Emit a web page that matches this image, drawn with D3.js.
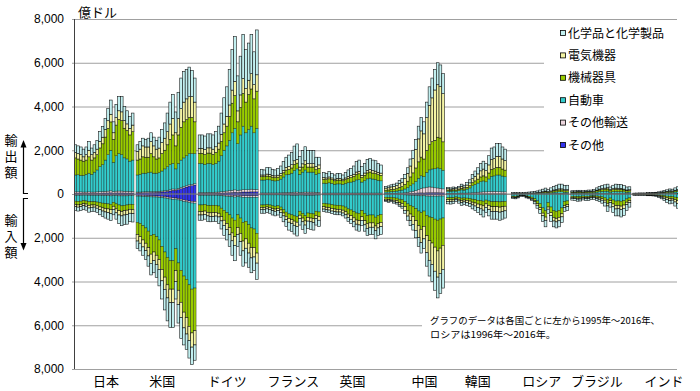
<!DOCTYPE html>
<html><head><meta charset="utf-8">
<script src="https://cdn.jsdelivr.net/npm/d3@7/dist/d3.min.js"></script>
<style>
body{margin:0;background:#fff}
svg{display:block}
text{font-family:"Noto Sans CJK JP","Noto Sans",sans-serif;fill:#000}
.num{font-family:"Liberation Sans",Arial,sans-serif}
</style>
</head><body>
<svg id="c" width="700" height="391"></svg>
<script>
// ---------------- categories / labels ----------------
const countries = ["日本","米国","ドイツ","フランス","英国","中国","韓国","ロシア","ブラジル","インド"];
const years = [1995,1996,1997,1998,1999,2000,2001,2002,2003,2004,2005,2006,2007,2008,2009,2010,2011,2012,2013,2014,2015,2016];
const legendLabels = ["化学品と化学製品","電気機器","機械器具","自動車","その他輸送","その他"];
const tickValues = [-8000,-6000,-4000,-2000,0,2000,4000,6000,8000];

// ---------------- data (億ドル), 1995-2016; Russia 1996-2016 ----------------
// order of each group: その他, その他輸送, 自動車, 機械器具, 電気機器, 化学品と化学製品
const jpExOther=[40,40,40,35,35,40,35,35,40,40,45,45,50,55,40,50,50,50,45,45,45,45];
const jpExTrans=[60,60,60,55,55,60,55,55,60,65,70,75,80,90,70,80,85,85,80,80,75,75];
const jpExAuto=[770,780,750,760,810,850,810,910,1000,1150,1230,1430,1670,1850,1340,1620,1720,1670,1530,1480,1380,1430];
const jpExMach=[780,720,700,650,650,750,650,650,700,850,950,1050,1200,1300,1050,1400,1550,1550,1350,1300,1200,1300];
const jpExElec=[250,250,250,200,250,300,250,250,250,300,300,350,350,350,300,350,400,400,350,300,300,300];
const jpExChem=[350,350,350,350,350,400,300,350,400,450,500,500,550,650,500,600,650,700,650,600,550,550];
const jpImOther=[30,30,30,25,25,30,30,30,30,30,35,35,35,40,30,35,40,40,40,40,35,35];
const jpImTrans=[30,30,30,30,30,30,30,30,30,35,35,40,40,45,35,40,45,45,45,45,40,40];
const jpImAuto=[270,280,270,245,265,290,290,290,310,335,350,365,375,385,315,375,415,455,435,415,395,405];
const jpImMach=[150,160,150,140,140,170,150,150,170,190,210,220,230,240,180,230,260,260,240,240,230,240];
const jpImElec=[100,100,100,90,100,120,110,100,110,130,150,160,170,180,140,180,200,200,200,200,180,180];
const jpImChem=[170,180,180,170,180,190,190,190,200,230,250,280,300,330,250,290,390,450,440,440,370,380];

const usExOther=[50,50,55,60,60,70,70,75,80,90,100,120,140,170,170,200,240,280,320,360,380,410];
const usExTrans=[40,40,45,45,45,45,45,45,45,45,50,50,55,60,55,55,60,60,60,60,60,60];
const usExAuto=[780,810,850,845,875,885,835,830,855,915,1000,1080,1155,1170,925,1145,1250,1310,1370,1430,1410,1380];
const usExMach=[680,700,750,730,700,850,750,650,670,800,850,1000,1150,1300,1050,1300,1500,1650,1650,1650,1650,1450];
const usExElec=[400,450,500,470,470,550,500,450,450,500,550,600,700,750,600,750,850,900,950,950,950,900];
const usExChem=[300,350,350,350,400,400,400,400,500,600,700,850,1000,1100,950,1200,1400,1400,1350,1350,1200,1100];
const usImOther=[60,60,65,70,75,80,85,90,100,110,120,140,160,180,180,210,240,270,290,320,340,350];
const usImTrans=[40,40,45,45,50,50,50,50,55,55,60,60,65,65,55,60,65,65,70,70,70,70];
const usImAuto=[1200,1250,1340,1435,1575,1770,1715,1810,1945,2235,2470,2700,2825,2805,2265,2880,3195,3415,3540,3760,3940,3880];
const usImMach=[550,600,650,700,750,850,800,850,900,1050,1150,1250,1300,1300,1000,1250,1450,1650,1750,1900,2000,1950];
const usImElec=[300,300,320,340,380,420,400,420,450,520,560,600,620,620,500,650,700,720,750,650,650,650];
const usImChem=[350,350,380,410,470,530,550,600,750,830,940,1050,1130,1130,800,850,950,780,700,800,800,700];

const deExOther=[30,30,30,30,30,30,35,40,45,50,55,60,70,80,70,80,90,90,90,100,100,100];
const deExTrans=[40,40,40,45,45,45,50,50,60,70,80,90,100,110,90,100,110,110,110,120,110,110];
const deExAuto=[1330,1330,1280,1325,1325,1275,1315,1410,1645,1880,2065,2300,2630,2810,2140,2520,2900,2600,2750,2880,2590,2790];
const deExMach=[460,460,450,470,470,460,500,550,650,800,900,1100,1350,1500,1000,1250,1500,1400,1600,1700,1550,1700];
const deExElec=[230,230,230,240,240,240,260,280,330,400,450,520,600,650,500,580,680,620,650,700,650,750];
const deExChem=[610,610,620,640,640,650,690,770,970,1200,1350,1630,1850,2050,1600,1770,2020,1780,1700,1800,1500,2050];
const deImOther=[30,30,30,30,30,30,30,35,40,45,50,55,60,70,60,70,80,80,80,80,80,80];
const deImTrans=[30,30,30,30,30,30,30,35,40,45,50,55,60,70,60,65,70,70,70,70,70,70];
const deImAuto=[440,440,420,460,470,460,460,480,570,660,750,840,980,1060,830,965,1150,1100,1250,1400,1450,1650];
const deImMach=[310,310,300,320,330,330,320,330,380,450,500,580,680,750,580,700,850,800,850,900,850,900];
const deImElec=[150,150,150,160,170,180,170,170,200,240,270,320,360,400,320,380,450,430,450,470,430,460];
const deImChem=[240,240,220,250,240,220,240,300,370,460,480,550,660,700,550,620,700,670,650,680,620,740];

const frExOther=[20,20,20,20,20,20,20,20,25,25,25,25,30,30,25,25,30,30,30,30,25,25];
const frExTrans=[30,30,30,30,30,30,30,35,40,45,45,50,55,60,50,55,60,55,55,55,50,50];
const frExAuto=[590,590,610,600,570,550,570,625,715,810,830,875,995,1060,825,920,1010,915,915,915,825,875];
const frExMach=[150,150,160,160,150,150,150,160,190,210,220,240,270,260,200,230,250,230,230,230,210,220];
const frExElec=[80,80,90,90,80,80,90,100,110,130,140,150,170,170,130,150,170,160,160,160,150,160];
const frExChem=[260,230,310,300,280,270,310,340,400,460,520,550,670,710,480,600,640,590,590,590,420,350];
const frImOther=[20,20,20,20,20,20,20,20,25,25,25,30,30,30,25,25,30,30,30,30,25,25];
const frImTrans=[20,20,20,20,20,20,20,20,25,25,25,30,30,30,25,25,30,30,30,30,25,25];
const frImAuto=[460,460,450,460,500,520,500,560,660,780,860,890,940,980,740,840,930,810,830,850,740,770];
const frImMach=[110,110,100,110,120,130,120,130,160,190,210,220,240,250,180,210,240,200,210,220,190,220];
const frImElec=[90,90,90,90,100,100,100,110,130,150,170,180,190,200,150,170,190,170,170,170,150,160];
const frImChem=[180,180,170,180,200,210,200,230,270,320,360,370,400,430,300,350,380,330,350,350,290,290];

const gbExOther=[20,20,20,20,20,20,20,20,20,20,20,20,20,20,20,20,20,20,20,20,20,20];
const gbExTrans=[25,25,25,25,25,25,25,25,25,25,25,25,25,25,25,25,25,25,25,25,25,25];
const gbExAuto=[450,440,470,440,400,420,420,400,440,480,500,540,600,620,500,570,650,680,640,620,580,560];
const gbExMach=[180,170,180,170,160,170,170,160,170,190,200,220,250,260,210,240,270,280,270,270,260,250];
const gbExElec=[80,80,85,80,75,80,80,75,80,90,95,100,110,115,95,105,115,115,110,110,105,100];
const gbExChem=[220,210,240,210,190,230,230,190,240,295,330,375,475,510,400,440,505,510,485,475,410,370];
const gbImOther=[20,20,20,20,20,20,20,20,20,20,20,20,20,20,20,20,20,20,20,20,20,20];
const gbImTrans=[20,20,20,20,20,20,20,20,20,20,20,20,20,20,20,20,20,20,20,20,20,20];
const gbImAuto=[390,410,420,450,470,480,480,510,560,640,690,760,830,850,720,850,950,920,920,1020,940,900];
const gbImMach=[150,155,160,170,175,180,180,190,210,240,260,290,320,330,280,330,370,360,360,400,370,360];
const gbImElec=[110,115,115,120,125,125,125,130,140,155,165,180,190,195,170,190,210,200,200,220,200,190];
const gbImChem=[110,110,115,120,120,125,125,130,150,175,195,230,270,285,240,290,330,330,330,370,350,360];

const cnExOther=[10,10,10,10,10,15,15,20,25,30,35,40,50,55,50,60,65,65,65,65,60,55];
const cnExTrans=[15,15,20,20,25,30,30,40,50,70,90,110,150,200,230,250,260,250,220,210,200,180];
const cnExAuto=[70,75,85,90,100,120,135,170,220,280,340,420,520,580,520,680,780,830,870,920,900,850];
const cnExMach=[80,85,95,100,110,140,160,210,290,400,500,620,750,850,800,1000,1150,1250,1300,1400,1400,1300];
const cnExElec=[95,100,115,125,140,175,200,260,360,500,650,850,1050,1200,1150,1500,1800,2000,2300,2400,2350,2200];
const cnExChem=[80,85,95,105,115,140,160,200,255,320,385,460,580,615,550,710,845,905,945,1005,990,915];
const cnImOther=[10,10,10,10,10,15,15,20,25,25,30,30,35,35,35,40,40,40,40,40,40,40];
const cnImTrans=[10,10,10,10,10,15,15,20,25,30,35,40,45,50,45,55,60,60,60,60,55,55];
const cnImAuto=[130,140,130,155,170,210,235,310,400,470,520,600,700,770,700,880,950,980,1050,1100,1050,1000];
const cnImMach=[90,100,90,110,120,150,170,230,320,390,450,550,670,760,700,930,1080,1160,1280,1400,1330,1250];
const cnImElec=[60,65,60,75,85,110,125,170,240,300,350,440,540,610,570,780,900,980,1100,1200,1150,1100];
const cnImChem=[50,55,50,60,65,80,90,130,190,235,265,340,410,475,450,615,720,780,870,950,925,855];

const krExOther=[10,10,10,10,10,10,10,10,10,10,10,10,10,10,10,10,10,10,10,10,10,10];
const krExTrans=[20,20,20,20,25,30,30,35,40,50,60,70,80,90,90,100,110,110,100,100,90,90];
const krExAuto=[100,95,110,100,120,150,135,180,230,320,370,420,480,500,460,580,690,710,760,760,720,690];
const krExMach=[50,45,50,50,55,70,60,80,100,140,160,180,210,230,220,270,320,330,350,350,320,300];
const krExElec=[60,55,65,60,70,95,80,105,130,180,210,240,280,310,290,370,450,460,500,500,460,440];
const krExChem=[60,55,65,60,70,95,85,110,140,200,240,280,340,360,330,420,520,530,580,580,550,520];
const krImOther=[10,10,10,10,10,10,10,10,10,10,10,10,10,10,10,10,10,10,10,10,10,10];
const krImTrans=[10,10,10,10,10,10,10,10,10,10,10,10,10,10,10,10,10,10,10,10,10,10];
const krImAuto=[150,150,145,115,140,170,160,170,190,220,240,270,290,310,260,300,330,330,330,340,330,320];
const krImMach=[90,95,90,70,85,105,95,105,115,135,150,170,190,210,170,200,230,230,230,240,230,220];
const krImElec=[80,80,75,60,75,95,85,95,105,125,140,160,180,200,160,190,220,220,220,230,220,210];
const krImChem=[110,115,110,85,100,130,120,130,150,180,200,230,270,310,240,290,350,350,350,370,350,330];

const ruExOther=[5,5,5,5,5,5,5,5,5,5,5,5,5,5,5,5,5,5,5,5,5];
const ruExTrans=[5,5,5,5,5,5,5,5,10,10,10,10,15,15,15,20,20,20,20,20,20];
const ruExAuto=[5,5,5,5,5,5,10,10,10,15,25,30,40,30,40,60,70,80,80,60,60];
const ruExMach=[10,10,10,10,10,10,10,15,15,20,25,35,45,35,50,60,70,80,80,70,70];
const ruExElec=[5,5,5,5,5,10,10,10,10,15,20,25,30,25,30,40,45,50,50,40,45];
const ruExChem=[40,40,30,30,40,45,50,55,70,75,95,115,135,90,140,155,190,215,215,185,200];
const ruImOther=[5,5,5,5,5,5,5,5,5,5,5,5,5,5,5,5,5,5,5,5,5];
const ruImTrans=[10,10,10,10,10,10,10,10,10,10,10,10,10,10,10,10,10,10,10,10,10];
const ruImAuto=[80,90,70,35,40,70,90,130,200,300,430,620,750,380,580,750,780,740,620,330,300];
const ruImMach=[40,45,35,20,22,35,45,60,90,130,180,240,290,200,260,310,320,310,270,180,170];
const ruImElec=[25,25,20,12,13,20,25,35,50,70,90,120,150,100,130,160,160,160,140,90,90];
const ruImChem=[40,45,40,30,30,40,45,60,95,135,185,255,295,205,265,265,275,275,255,185,175];

const brExOther=[5,5,5,5,5,5,5,5,5,5,5,5,5,5,5,5,5,5,5,5,5,5];
const brExTrans=[15,15,15,15,15,15,15,15,15,15,15,15,15,15,15,15,15,15,15,15,15,15];
const brExAuto=[30,30,35,35,30,35,40,40,50,70,90,100,110,110,70,90,100,90,100,80,60,70];
const brExMach=[35,35,40,40,35,40,40,40,45,60,75,80,90,100,70,90,100,95,95,85,70,70];
const brExElec=[15,15,20,20,15,20,20,20,25,30,40,45,50,55,40,45,50,45,45,40,35,35];
const brExChem=[50,50,55,55,50,55,60,60,70,100,125,135,150,165,120,155,180,180,170,155,135,135];
const brImOther=[5,5,5,5,5,5,5,5,5,5,5,5,5,5,5,5,5,5,5,5,5,5];
const brImTrans=[10,10,10,10,10,10,10,10,10,10,10,10,10,10,10,10,10,10,10,10,10,10];
const brImAuto=[90,95,105,100,80,90,90,70,65,80,95,115,160,240,170,260,310,300,320,290,210,160];
const brImMach=[60,65,70,70,55,60,60,50,45,60,70,85,110,170,120,180,210,210,220,200,150,120];
const brImElec=[40,40,45,45,40,45,45,40,40,50,60,70,90,120,90,130,150,150,160,150,110,90];
const brImChem=[75,85,95,90,80,90,90,75,75,95,110,135,175,255,205,265,315,325,335,325,265,215];

const inExOther=[3,3,3,3,3,3,3,3,3,3,3,3,3,3,3,3,3,3,3,3,3,3];
const inExTrans=[2,2,2,2,2,3,3,4,5,6,8,10,12,15,15,18,20,22,22,22,20,22];
const inExAuto=[10,11,12,12,12,14,14,16,20,25,32,40,48,58,55,70,85,90,95,100,95,100];
const inExMach=[6,7,8,8,8,10,10,12,14,18,24,30,36,44,42,54,62,65,70,70,65,70];
const inExElec=[4,5,5,5,5,6,6,7,8,10,13,16,20,25,24,30,35,38,40,40,38,40];
const inExChem=[15,17,20,20,20,24,24,28,30,38,50,61,71,85,81,105,125,132,140,145,139,145];
const inImOther=[3,3,3,3,3,3,3,3,3,3,3,3,3,3,3,3,3,3,3,3,3,3];
const inImTrans=[3,3,3,3,3,3,3,3,3,3,3,3,3,3,3,3,3,3,3,3,3,3];
const inImAuto=[15,16,16,17,17,20,20,22,30,40,55,75,95,110,105,140,160,160,150,155,160,170];
const inImMach=[12,13,13,14,14,16,16,18,24,32,45,60,75,90,85,110,130,130,120,125,130,135];
const inImElec=[10,11,11,12,12,14,14,16,22,30,42,58,75,90,85,110,130,130,120,125,130,140];
const inImChem=[17,19,19,21,21,24,24,28,38,52,72,101,129,154,139,184,224,224,204,209,224,229];

// ---------------- assemble ----------------
const keys = ["other","trans","auto","mach","elec","chem"]; // stacked outward from 0
const colors = {chem:"#c2f0f0", elec:"#f4f4a4", mach:"#99cc00", auto:"#33cccc", trans:"#ecd6de", other:"#3333ee"};
const legendKeys = ["chem","elec","mach","auto","trans","other"];
// layout: horizontal nudge of each country label (px)
const labelNudge = [1,-5,-2,2,-1,9,0,2,-5,0];

const groups = [
  ["日本",1995,[jpExOther,jpExTrans,jpExAuto,jpExMach,jpExElec,jpExChem],[jpImOther,jpImTrans,jpImAuto,jpImMach,jpImElec,jpImChem]],
  ["米国",1995,[usExOther,usExTrans,usExAuto,usExMach,usExElec,usExChem],[usImOther,usImTrans,usImAuto,usImMach,usImElec,usImChem]],
  ["ドイツ",1995,[deExOther,deExTrans,deExAuto,deExMach,deExElec,deExChem],[deImOther,deImTrans,deImAuto,deImMach,deImElec,deImChem]],
  ["フランス",1995,[frExOther,frExTrans,frExAuto,frExMach,frExElec,frExChem],[frImOther,frImTrans,frImAuto,frImMach,frImElec,frImChem]],
  ["英国",1995,[gbExOther,gbExTrans,gbExAuto,gbExMach,gbExElec,gbExChem],[gbImOther,gbImTrans,gbImAuto,gbImMach,gbImElec,gbImChem]],
  ["中国",1995,[cnExOther,cnExTrans,cnExAuto,cnExMach,cnExElec,cnExChem],[cnImOther,cnImTrans,cnImAuto,cnImMach,cnImElec,cnImChem]],
  ["韓国",1995,[krExOther,krExTrans,krExAuto,krExMach,krExElec,krExChem],[krImOther,krImTrans,krImAuto,krImMach,krImElec,krImChem]],
  ["ロシア",1996,[ruExOther,ruExTrans,ruExAuto,ruExMach,ruExElec,ruExChem],[ruImOther,ruImTrans,ruImAuto,ruImMach,ruImElec,ruImChem]],
  ["ブラジル",1995,[brExOther,brExTrans,brExAuto,brExMach,brExElec,brExChem],[brImOther,brImTrans,brImAuto,brImMach,brImElec,brImChem]],
  ["インド",1995,[inExOther,inExTrans,inExAuto,inExMach,inExElec,inExChem],[inImOther,inImTrans,inImAuto,inImMach,inImElec,inImChem]]
];

function rowsOf(start, arrs){
  return arrs[0].map((_,i)=>{
    const r={year:start+i};
    keys.forEach((k,j)=>r[k]=arrs[j][i]);
    return r;
  });
}

// ---------------- scales ----------------
const svg = d3.select("#c");
const L=74, R=677, T=19, B=369;
const y = d3.scaleLinear().domain([-8000,8000]).range([B,T]);
const xC = d3.scaleBand().domain(countries).range([L, L+62.1*10]).paddingInner(0);
const xY = d3.scaleBand().domain(years).range([0,60]).padding(0);

// grid + axis
const gAxis = svg.append("g").attr("transform",`translate(${L},0)`)
  .call(d3.axisLeft(y).tickValues(tickValues).tickSize(-(R-L)).tickSizeOuter(0)
    .tickFormat(d=>d3.format(",")(Math.abs(d))).tickPadding(10));
gAxis.select(".domain").remove();
gAxis.selectAll(".tick line").attr("stroke","#a0a0a0").attr("x1",-2).attr("stroke-width",1);
gAxis.selectAll(".tick text").attr("class","num").attr("font-size",12).attr("x",-10).attr("fill","#000");

// bars
svg.append("clipPath").attr("id","plotclip").append("rect").attr("x",L).attr("y",0).attr("width",R-L+1).attr("height",391);
const gBars = svg.append("g").attr("clip-path","url(#plotclip)");
const stack = d3.stack().keys(keys);
groups.forEach(([name,start,ex,im])=>{
  const x0 = xC(name);
  [["ex",ex,1],["im",im,-1]].forEach(([dir,arrs,sgn])=>{
    const series = stack(rowsOf(start,arrs));
    series.forEach(s=>{
      gBars.append("g").selectAll("rect").data(s).join("rect")
        .attr("x",d=>x0+xY(d.data.year))
        .attr("width",xY.bandwidth())
        .attr("y",d=>Math.min(y(sgn*d[0]),y(sgn*d[1])))
        .attr("height",d=>Math.abs(y(sgn*d[1])-y(sgn*d[0])))
        .attr("fill",colors[s.key])
        .attr("stroke","#000")
        .attr("stroke-opacity", (s.key==="chem"||s.key==="elec")?0.9:0.55)
        .attr("stroke-width",0.6);
    });
  });
});

// zero line
svg.append("line").attr("x1",L).attr("x2",R).attr("y1",y(0)).attr("y2",y(0)).attr("stroke","#909090").attr("stroke-width",1);
// left axis line
svg.append("line").attr("x1",L+0.5).attr("x2",L+0.5).attr("y1",T).attr("y2",B).attr("stroke","#404040").attr("stroke-width",1);

// unit
svg.append("text").attr("x",78).attr("y",17).attr("font-size",13).text("億ドル");

// country labels
svg.append("g").selectAll("text").data(countries).join("text")
  .attr("x",(d,i)=>xC(d)+xC.bandwidth()/2+labelNudge[i]).attr("y",386).attr("text-anchor","middle").attr("font-size",13).text(d=>d);

// export/import side labels (vertical text)
const side = svg.append("g");
side.append("text").attr("x",11).attr("y",134).attr("font-size",13)
  .style("writing-mode","vertical-rl").attr("letter-spacing",3).text("輸出額");
side.append("text").attr("x",11).attr("y",214).attr("font-size",13)
  .style("writing-mode","vertical-rl").attr("letter-spacing",3).text("輸入額");
side.append("path").attr("d","M28,193.5H23.5V146").attr("fill","none").attr("stroke","#000").attr("stroke-width",1.2);
side.append("path").attr("d","M23.5,140L20.5,147.5H26.5Z").attr("fill","#000");
side.append("path").attr("d","M28,198.5H23.5V244").attr("fill","none").attr("stroke","#000").attr("stroke-width",1.2);
side.append("path").attr("d","M23.5,250.5L20.5,243H26.5Z").attr("fill","#000");

// legend
const lg = svg.append("g");
lg.append("rect").attr("x",544).attr("y",23).attr("width",150).attr("height",138).attr("fill","#fff");
legendKeys.forEach((k,i)=>{
  const cy = 33 + i*22.4;
  lg.append("rect").attr("x",560.5).attr("y",cy-2.5).attr("width",5).attr("height",5).attr("fill",colors[k]).attr("stroke","#000").attr("stroke-width",0.8);
  lg.append("text").attr("x",568).attr("y",cy+4.5).attr("font-size",12).text(legendLabels[i]);
});

// note
const nt = svg.append("g");
nt.append("rect").attr("x",422).attr("y",311).attr("width",260).attr("height",30).attr("fill","#fff");
nt.append("text").attr("x",430).attr("y",324).attr("font-size",9.4).attr("textLength",230).attr("lengthAdjust","spacingAndGlyphs").text("グラフのデータは各国ごとに左から1995年～2016年、");
nt.append("text").attr("x",430).attr("y",337.9).attr("font-size",9.4).attr("textLength",126).attr("lengthAdjust","spacingAndGlyphs").text("ロシアは1996年～2016年。");
</script>
</body></html>
